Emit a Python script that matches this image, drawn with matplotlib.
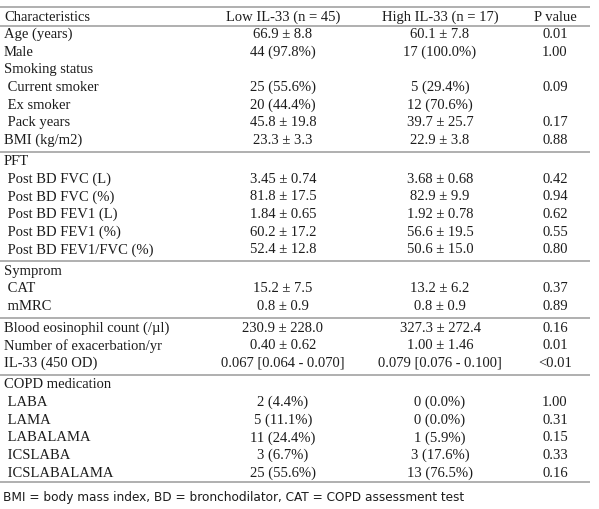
import matplotlib
matplotlib.use("Agg")
import matplotlib.pyplot as plt

# table content
characteristics = [
    "Age (years)", "Male", "Smoking status", " Current smoker", " Ex smoker",
    " Pack years", "BMI (kg/m2)", "PFT", " Post BD FVC (L)", " Post BD FVC (%)",
    " Post BD FEV1 (L)", " Post BD FEV1 (%)", " Post BD FEV1/FVC (%)", "Symprom",
    " CAT", " mMRC", "Blood eosinophil count (/\u00b5l)", "Number of exacerbation/yr",
    "IL-33 (450 OD)", "COPD medication", " LABA", " LAMA", " LABALAMA",
    " ICSLABA", " ICSLABALAMA",
]
low_il33 = [
    "66.9 \u00b1 8.8", "44 (97.8%)", "", "25 (55.6%)", "20 (44.4%)",
    "45.8 \u00b1 19.8", "23.3 \u00b1 3.3", "", "3.45 \u00b1 0.74", "81.8 \u00b1 17.5",
    "1.84 \u00b1 0.65", "60.2 \u00b1 17.2", "52.4 \u00b1 12.8", "",
    "15.2 \u00b1 7.5", "0.8 \u00b1 0.9", "230.9 \u00b1 228.0", "0.40 \u00b1 0.62",
    "0.067 [0.064 - 0.070]", "", "2 (4.4%)", "5 (11.1%)", "11 (24.4%)",
    "3 (6.7%)", "25 (55.6%)",
]
high_il33 = [
    "60.1 \u00b1 7.8", "17 (100.0%)", "", "5 (29.4%)", "12 (70.6%)",
    "39.7 \u00b1 25.7", "22.9 \u00b1 3.8", "", "3.68 \u00b1 0.68", "82.9 \u00b1 9.9",
    "1.92 \u00b1 0.78", "56.6 \u00b1 19.5", "50.6 \u00b1 15.0", "",
    "13.2 \u00b1 6.2", "0.8 \u00b1 0.9", "327.3 \u00b1 272.4", "1.00 \u00b1 1.46",
    "0.079 [0.076 - 0.100]", "", "0 (0.0%)", "0 (0.0%)", "1 (5.9%)",
    "3 (17.6%)", "13 (76.5%)",
]
p_values = [
    "0.01", "1.00", "", "0.09", "", "0.17", "0.88", "", "0.42", "0.94",
    "0.62", "0.55", "0.80", "", "0.37", "0.89", "0.16", "0.01", "<0.01",
    "", "1.00", "0.31", "0.15", "0.33", "0.16",
]
header = ["Characteristics", "Low IL-33 (n = 45)", "High IL-33 (n = 17)", "P value"]
group_ends = [7, 13, 16, 19]   # rows (header = 0) followed by a section rule
footnote = "BMI = body mass index, BD = bronchodilator, CAT = COPD assessment test"

W, H = 599, 509
ROW0, ROW_H, GAP = 17, 17.6, 4.0
col_x = [4, 283, 440, 555]
ink = "#1c1c1c"
rule = "#9a9a9a"

fig = plt.figure(figsize=(W / 100, H / 100), dpi=100)
ax = fig.add_axes([0, 0, 1, 1])
ax.set_xlim(0, W)
ax.set_ylim(H, 0)
ax.axis("off")

rows = [header] + [list(r) for r in zip(characteristics, low_il33, high_il33, p_values)]


def row_y(i):
    return ROW0 + ROW_H * i + GAP * sum(1 for g in group_ends if g < i)


serif = dict(family="Liberation Serif", fontsize=10.5, color=ink, va="center")
for i, row in enumerate(rows):
    y = row_y(i)
    ax.text(col_x[0], y, row[0], ha="left", **serif)
    for x, txt in zip(col_x[1:], row[1:]):
        ax.text(x, y, txt, ha="center", **serif)

last = len(rows) - 1
rule_ys = [row_y(0) - 10.5, row_y(0) + 8.5]
rule_ys += [(row_y(g) + row_y(g + 1)) / 2 + 0.5 for g in group_ends]
rule_ys += [row_y(last) + 8.5]
ax.hlines(rule_ys, 0, 590, color=rule, lw=1.1)

ax.text(3, 497, footnote, ha="left", va="center", family="DejaVu Sans",
        fontsize=8.7, color=ink)

fig.savefig("out.png", dpi=100)
